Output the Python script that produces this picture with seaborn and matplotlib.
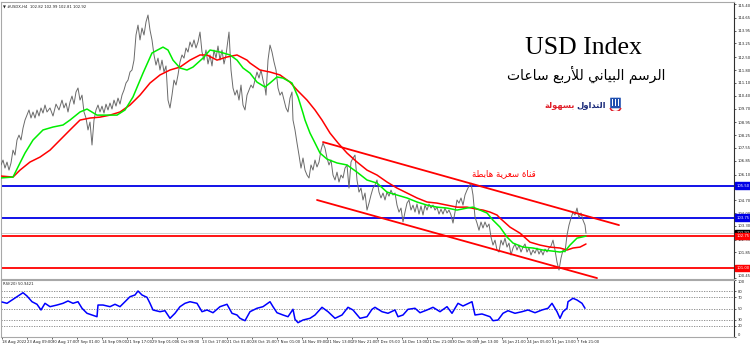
import matplotlib
matplotlib.use("Agg")
import matplotlib.pyplot as plt
import seaborn as sns
import pandas as pd
from matplotlib.patches import Rectangle, FancyBboxPatch, Wedge
from matplotlib import font_manager

sns.set_theme(style="white")
plt.rcParams['font.family'] = ['DejaVu Sans']

# ---------------- data ----------------
price_bar = [1,3,5,7,9,11,13,15,17,19,21,23,25,27,29,31,33,35,37,39,41,43,45,47,50,53,56,59,62,64,66,68,70,72,74,76,78,80,82,84,86,88,90,92,94,96,98,100,102,104,106,108,110,112,114,116,118,120,122,124,126,128,130,132,134,136,138,140,142,144,146,148,150,152,154,156,158,160,162,164,166,168,170,172,174,176,178,180,182,184,186,188,190,192,194,196,198,200,202,204,206,208,210,212,214,216,218,220,222,224,226,228,229,231,233,235,237,239,241,243,245,247,249,251,253,255,257,259,261,263,265,266,268,270,272,274,276,278,280,282,284,286,288,290,292,293,295,297,299,301,303,305,307,309,311,313,315,317,319,321,323,325,327,329,331,333,335,337,339,341,343,345,347,349,351,353,355,357,359,361,363,365,367,369,371,373,375,377,379,381,383,385,387,389,391,393,395,397,399,401,403,405,407,409,411,413,415,417,419,421,423,425,427,429,431,433,435,437,439,441,443,445,447,449,451,453,455,457,459,461,463,465,467,469,471,473,475,477,479,481,483,485,487,489,491,493,495,497,499,501,503,505,507,509,511,513,515,517,519,521,523,525,527,529,531,533,535,537,539,541,543,545,547,549,551,553,555,557,559,561,563,565,567,569,571,573,575,577,579,581,583,585,586]
price_close = [106.62,106.89,106.45,106.78,106.34,106.73,107.43,107.16,107.98,108.25,107.98,108.63,109.07,109.34,109.62,109.18,109.51,109.18,109.62,109.29,109.73,109.45,109.89,109.51,109.73,109.29,109.94,109.62,110.16,109.73,110.00,109.51,110.05,110.38,109.94,110.60,110.82,110.16,110.43,109.51,109.18,108.53,108.96,107.71,109.07,109.62,109.89,109.51,109.83,109.45,109.94,109.62,110.00,109.67,110.16,109.83,110.27,109.94,110.43,110.71,111.09,111.25,111.69,111.80,112.34,113.71,114.25,113.44,114.09,113.71,114.42,114.80,113.98,113.44,112.62,112.07,112.45,111.80,112.34,111.69,112.02,110.16,109.73,110.43,111.25,110.98,111.53,112.24,112.62,112.45,113.00,112.78,113.33,113.05,113.44,113.00,113.33,113.87,112.78,112.34,112.89,112.13,112.62,112.02,112.89,112.45,113.11,112.34,112.89,112.13,112.62,113.44,113.87,111.80,110.82,110.43,110.71,110.16,110.98,109.89,109.62,110.43,110.71,110.98,110.82,111.25,111.69,111.36,111.80,111.25,110.82,110.43,112.34,113.16,112.78,112.24,111.80,110.82,110.43,110.60,110.16,109.73,109.51,110.27,110.60,109.07,108.53,107.82,107.16,106.45,107.00,106.34,106.07,105.91,106.62,106.34,106.89,106.51,106.78,107.43,107.82,107.54,107.00,106.62,106.89,106.07,105.80,106.23,105.69,106.07,105.91,106.45,106.62,105.36,106.78,107.00,107.16,105.80,105.14,105.36,104.71,105.09,104.16,104.54,104.98,105.36,105.52,105.80,105.14,104.82,105.09,104.71,105.14,104.92,105.25,104.98,105.09,104.43,104.05,104.27,103.51,104.05,104.54,104.71,104.16,104.43,104.05,104.49,103.94,104.38,103.89,104.43,104.16,104.49,104.27,104.43,104.16,104.32,103.94,104.21,103.94,104.27,104.00,104.16,103.89,103.45,104.05,104.71,104.54,104.82,104.43,104.98,105.25,105.47,105.63,104.98,103.78,103.45,103.06,103.51,103.18,103.51,103.23,103.40,102.69,102.25,102.52,101.98,101.87,102.52,102.25,102.63,102.14,102.36,101.71,102.09,102.31,101.98,102.25,101.87,102.14,102.31,101.87,102.09,101.71,101.98,101.81,102.09,101.76,101.98,101.71,102.03,101.87,102.09,102.20,102.52,101.98,101.32,100.89,101.54,101.98,101.87,102.79,103.34,103.72,104.05,103.89,104.27,103.72,104.00,103.61,103.34,102.90]

ma_fast_bar = [0,13,20,25,33,43,53,63,70,80,87,97,107,117,125,133,143,152,163,168,173,180,187,193,203,210,220,230,237,243,250,257,265,270,277,283,292,298,303,305,310,315,320,327,337,347,357,367,377,387,397,407,417,427,437,447,457,467,473,480,487,493,500,507,513,523,533,543,553,560,565,570,577,582,586]
ma_fast = [105.91,105.96,106.73,107.27,107.98,108.53,108.69,108.80,109.07,109.51,109.67,109.34,109.34,109.34,109.62,110.33,111.63,112.73,113.05,112.89,112.34,111.91,111.80,111.96,112.45,112.89,112.78,112.62,112.34,111.91,111.63,111.14,110.87,111.09,111.42,111.36,111.09,110.33,109.45,109.07,108.36,107.82,107.27,106.94,106.73,106.62,106.23,105.80,105.63,105.14,104.98,104.82,104.60,104.43,104.32,104.27,104.16,104.27,104.32,104.16,104.00,103.61,103.23,102.69,102.36,102.14,102.09,101.98,101.92,101.87,101.92,102.25,102.63,102.69,102.74]

ma_slow_bar = [0,13,20,30,40,50,60,70,80,90,100,110,120,130,140,150,160,170,180,190,200,207,217,227,237,247,250,260,270,280,290,297,307,315,322,330,338,347,357,367,377,387,397,407,417,427,437,447,457,467,477,483,490,497,500,510,520,530,540,550,560,567,573,580,586]
ma_slow = [106.02,105.96,106.34,106.78,107.05,107.43,107.98,108.53,109.07,109.18,109.23,109.34,109.51,109.89,110.43,111.09,111.53,111.80,111.96,112.34,112.62,112.62,112.34,112.51,112.62,112.34,112.18,111.80,111.69,111.53,111.14,110.71,110.16,109.62,109.07,108.36,107.82,107.27,106.78,106.34,106.07,105.69,105.36,105.09,104.82,104.60,104.54,104.43,104.32,104.32,104.21,104.16,104.05,103.89,103.72,103.23,102.90,102.41,102.25,102.14,102.09,101.98,102.09,102.14,102.31]

rsi_bar = [2,7,12,17,23,27,32,37,41,45,50,57,63,68,73,78,82,87,92,97,98,103,110,115,120,125,130,135,138,142,147,150,153,160,165,170,175,180,185,190,197,202,207,213,220,227,232,237,240,245,250,257,263,270,273,277,283,288,293,295,298,303,310,315,322,328,335,342,348,353,360,367,372,375,382,388,395,398,403,408,415,420,427,433,440,447,452,458,463,472,475,482,490,493,498,503,508,515,522,528,535,542,548,552,557,560,563,567,568,573,577,582,585]
rsi_val = [61.4,59.1,64.9,70.7,77.7,71.9,61.9,57.4,47.4,59.1,53.2,56.1,59.1,63.2,59.1,61.9,50.4,41.6,38.6,35.6,56.1,56.1,53.2,57.4,53.2,61.9,70.7,73.7,80.7,73.7,69.6,59.1,47.4,44.4,46.1,32.8,41.6,53.2,59.1,61.9,59.1,44.4,47.4,42.6,53.2,57.4,41.6,38.6,32.8,28.6,44.4,50.4,53.2,61.9,53.2,42.6,38.6,35.6,48.6,31.1,25.1,29.8,32.8,38.6,52.1,44.4,32.8,38.6,52.1,47.4,32.8,35.6,48.6,52.1,44.4,41.6,47.4,35.6,38.6,48.6,50.4,42.6,47.4,52.1,44.4,53.2,41.6,59.1,54.4,61.9,38.6,40.4,35.6,28.6,29.8,41.6,46.1,41.6,44.4,47.4,42.6,47.4,50.4,59.1,44.4,32.8,44.4,50.4,61.9,67.9,64.9,59.1,50.4]
rsi_levels = [80, 70, 50, 30, 20]
rsi_ticks = [100, 80, 70, 50, 30, 20, 0]

# support / resistance levels
level_values = [105.50, 103.75, 102.75, 101.00]
level_colors = ['#0000e6', '#0000e6', '#ff0000', '#ff0000']
level_labels = ['105.50', '103.75', '102.75', '101.00']
last_price = 102.92

# descending channel endpoints (bar, price)
chan_upper_bar = [323, 619]
chan_upper = [107.87, 103.34]
chan_lower_bar = [317, 597]
chan_lower = [104.71, 100.45]

# visible price-scale labels (those hidden under the level boxes are left out)
price_tick_labels = ['115.40','114.65','113.95','113.25','112.50','111.80','111.10','110.40','109.70','108.95',
                     '108.25','107.55','106.85','106.10','104.70','104.00','103.30','102.55','101.85',
                     '100.45']

time_pos = [2,27,52,77,102,127,152,177,202,227,252,277,302,327,352,377,402,427,452,477,502,527,552,577]
time_labels = ['18 Aug 2022','23 Aug 09:00','30 Aug 17:00','7 Sep 01:00','14 Sep 09:00','21 Sep 17:00',
               '29 Sep 01:00','6 Oct 09:00','13 Oct 17:00','21 Oct 01:00','28 Oct 15:00','7 Nov 01:00',
               '14 Nov 09:00','21 Nov 13:00','29 Nov 21:00','7 Dec 05:00','14 Dec 13:00','21 Dec 21:00',
               '30 Dec 05:00','9 Jan 13:00','16 Jan 21:00','24 Jan 05:00','31 Jan 13:00','7 Feb 21:00']

# Arabic text, written in shaped presentation forms in visual order
# "الرسم البياني للأربع ساعات"
ar_subtitle = ("\uFE95\uFE8E\uFECB\uFE8E\uFEB3 \uFECA\uFE91\uFEAD\uFEF8\uFEDF "
               "\uFEF2\uFEE7\uFE8E\uFEF4\uFE92\uFEDF\uFE8D \uFEE2\uFEB3\uFEAE\uFEDF\uFE8D")
# "قناة سعرية هابطة"
ar_channel = ("\uFE94\uFEC4\uFE91\uFE8E\uFEEB \uFE94\uFEF3\uFEAE\uFECC\uFEB3 \uFE93\uFE8E\uFEE8\uFED7")
# "التداول" / "بسهولة"
ar_logo_a = "\uFEDD\uFEED\uFE8D\uFEAA\uFE98\uFEDF\uFE8D"
ar_logo_b = "\uFE94\uFEDF\uFEEE\uFEEC\uFEB4\uFE91"

# small font for scales
_names = {f.name for f in font_manager.fontManager.ttflist}
SMALL = ['Liberation Sans Narrow', 'DejaVu Sans'] if 'Liberation Sans Narrow' in _names else ['DejaVu Sans']
SMALL_FS = 3.3 if SMALL[0] == 'Liberation Sans Narrow' else 2.7

# ---------------- figure ----------------
W, H = 750, 346
fig = plt.figure(figsize=(7.5, 3.46), dpi=100)
fig.patch.set_facecolor('white')

def fx(px):
    return px / W

def fy(py):
    return 1 - py / H

ax = fig.add_axes([fx(1), fy(279), fx(733), 277 / H])
rx = fig.add_axes([fx(1), fy(337), fx(733), 57 / H])

for a in (ax, rx):
    a.set_facecolor('white')
    for s in a.spines.values():
        s.set_color('#a8a8a8')
        s.set_linewidth(0.8)
    a.spines['right'].set_color('#303030')
    a.yaxis.tick_right()
    a.tick_params(axis='y', which='both', right=True, left=False, length=1.5, width=0.5,
                  labelsize=SMALL_FS, pad=1, colors='#202020', labelfontfamily=SMALL[0])

# ---- main pane ----
ax.set_xlim(1, 734)
ax.set_ylim(100.40, 115.51)

for v, c in zip(level_values, level_colors):
    ax.axhline(v, color=c, lw=1.3, zorder=2)
ax.axhline(last_price, color='#c8c8c8', lw=0.6, zorder=1)

df_p = pd.DataFrame({'bar': price_bar, 'price': price_close})
sns.lineplot(data=df_p, x='bar', y='price', ax=ax, color='#6a6a6a', lw=0.7,
             estimator=None, sort=False, zorder=3)
sns.lineplot(x=ma_slow_bar, y=ma_slow, ax=ax, color='#ff0000', lw=1.1,
             estimator=None, sort=False, zorder=4)
sns.lineplot(x=ma_fast_bar, y=ma_fast, ax=ax, color='#00ee00', lw=1.1,
             estimator=None, sort=False, zorder=5)
sns.lineplot(x=chan_upper_bar, y=chan_upper, ax=ax, color='#ff0000', lw=1.3,
             estimator=None, sort=False, zorder=6)
sns.lineplot(x=chan_lower_bar, y=chan_lower, ax=ax, color='#ff0000', lw=1.3,
             estimator=None, sort=False, zorder=6)

ax.set_yticks([float(t) for t in price_tick_labels])
ax.set_yticklabels(price_tick_labels)
ylabs = ax.get_yticklabels()
ylabs[-1].set_va('bottom')   # lowest label sits just above the pane edge
ylabs[0].set_va('top')
ax.set_xticks([])
ax.set_xlabel('')
ax.set_ylabel('')

ytr = ax.get_yaxis_transform()
for v, c, lab in zip(level_values, level_colors, level_labels):
    ax.text(1.003, v, lab, transform=ytr, ha='left', va='center', fontsize=SMALL_FS,
            family=SMALL, color='white',
            bbox=dict(boxstyle='square,pad=0.3', fc=c, ec=c), zorder=10, clip_on=False)
ax.text(1.003, last_price, f'{last_price:.2f}', transform=ytr, ha='left', va='center',
        fontsize=SMALL_FS, family=SMALL, color='white',
        bbox=dict(boxstyle='square,pad=0.3', fc='black', ec='black'), zorder=9, clip_on=False)

# ---- RSI pane ----
rx.set_xlim(1, 734)
rx.set_ylim(0, 100)
for lv in rsi_levels:
    rx.axhline(lv, color='#808080', lw=0.6, ls=(0, (1.5, 1.5)), zorder=1)
sns.lineplot(x=rsi_bar, y=rsi_val, ax=rx, color='#0000ff', lw=1.1,
             estimator=None, sort=False, zorder=3)
rx.set_yticks(rsi_ticks)
rx.set_yticklabels([str(t) for t in rsi_ticks])
rlabs = rx.get_yticklabels()
rlabs[0].set_va('top')
rlabs[-1].set_va('bottom')
rx.set_xticks(time_pos)
rx.set_xticklabels(time_labels, ha='left')
rx.tick_params(axis='x', bottom=True, length=1.5, width=0.5, labelsize=SMALL_FS, pad=1,
               colors='#202020', labelfontfamily=SMALL[0])
rx.set_xlabel('')
rx.set_ylabel('')

# ---- texts ----
fig.text(fx(3), fy(7), '\u25BC #USDX,H4  102.82 102.99 102.81 102.92', fontsize=SMALL_FS,
         family=SMALL, ha='left', va='center', color='#202020')
fig.text(fx(3), fy(284), 'RSI(20) 50.9421', fontsize=SMALL_FS, family=SMALL,
         ha='left', va='center', color='#202020')

fig.text(fx(583), fy(48), 'USD Index', fontsize=18.5, family=['Liberation Serif', 'DejaVu Serif'],
         ha='center', va='center', color='black')
fig.text(fx(586), fy(74), ar_subtitle, fontsize=10, family=['DejaVu Sans'],
         ha='center', va='center', color='black')
fig.text(fx(504), fy(174), ar_channel, fontsize=6.2, family=['DejaVu Sans'],
         ha='center', va='center', color='#ff0000')

t_a = fig.text(fx(606), fy(105), ar_logo_a, fontsize=6, family=['DejaVu Sans'], fontweight='bold',
               ha='right', va='center', color='#1a2a7a')
fig.canvas.draw()
bb = t_a.get_window_extent()
fig.text((bb.x0 - 2) / W, fy(105), ar_logo_b, fontsize=6, family=['DejaVu Sans'],
         fontweight='bold', ha='right', va='center', color='#e0202a')

# small logo mark
lg = fig.add_axes([fx(609), fy(111), fx(13), 14 / H])
lg.set_xlim(0, 13)
lg.set_ylim(0, 14)
lg.axis('off')
lg.add_patch(FancyBboxPatch((1.5, 3), 10, 10, boxstyle='round,pad=0.3', fc='#1f4fb0', ec='none'))
for xb in (3.3, 6.0, 8.7):
    lg.add_patch(Rectangle((xb, 4.5), 1.0, 7, fc='white', ec='none'))
lg.add_patch(Wedge((6.5, 5.0), 6.5, 200, 340, width=1.6, fc='#e0202a', ec='none'))

fig.savefig('out.png', dpi=100, facecolor='white')
